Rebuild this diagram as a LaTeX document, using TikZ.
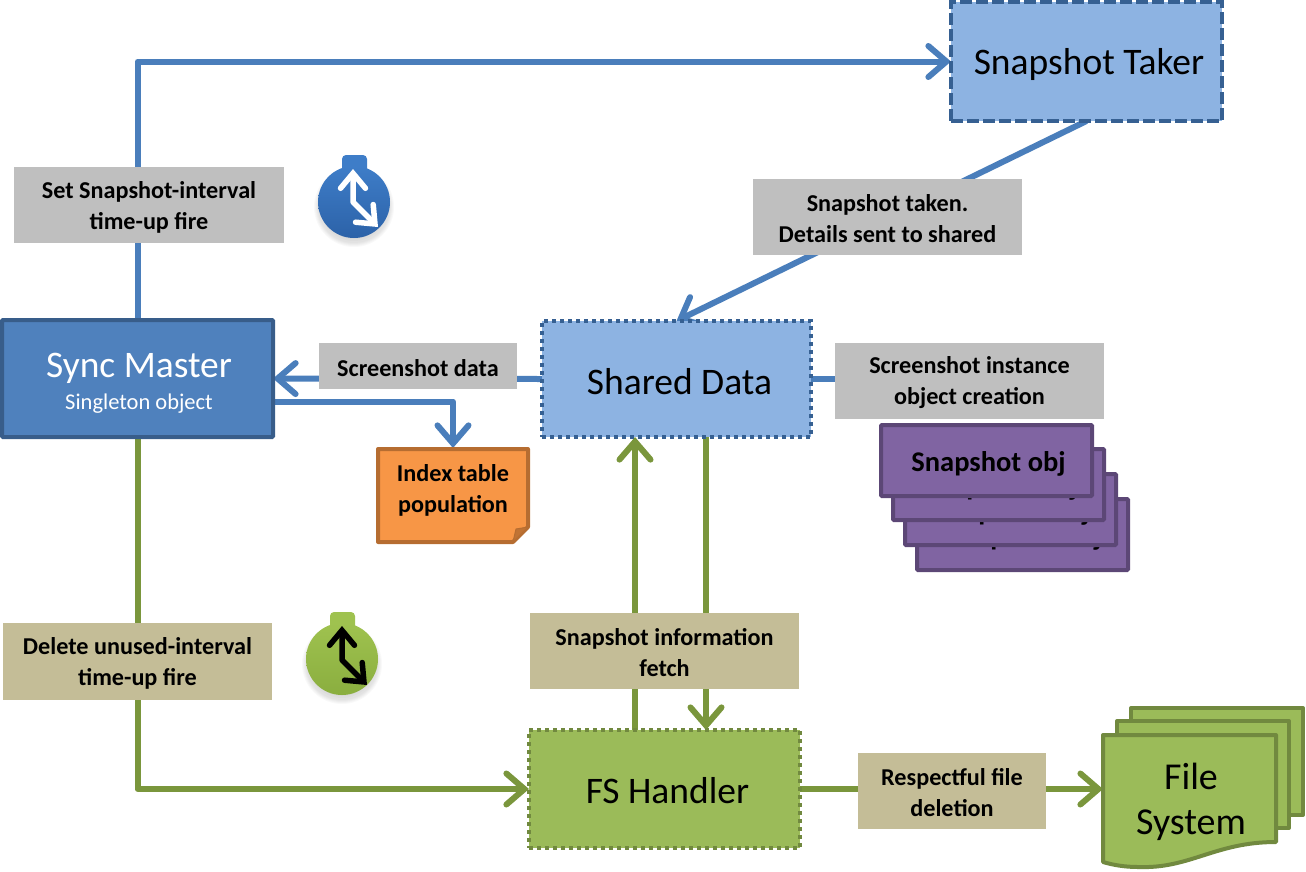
\documentclass[tikz,border=0pt]{standalone}
\usepackage{fontspec}
\setmainfont{Carlito}
\usetikzlibrary{arrows.meta,calc}
\pgfdeclarelayer{bg}
\pgfsetlayers{bg,main}
\definecolor{cblue}{HTML}{4A7EBB}
\definecolor{cgreen}{HTML}{7A963C}
\definecolor{dkblue}{HTML}{4F81BD}
\definecolor{dkblueb}{HTML}{385D8A}
\definecolor{ltblue}{HTML}{8DB3E2}
\definecolor{ltblueb}{HTML}{366092}
\definecolor{grn}{HTML}{9BBB59}
\definecolor{grnb}{HTML}{71893F}
\definecolor{prp}{HTML}{8064A2}
\definecolor{prpb}{HTML}{5C4776}
\definecolor{org}{HTML}{F79646}
\definecolor{orgb}{HTML}{B66D31}
\definecolor{gry}{HTML}{BFBFBF}
\definecolor{kha}{HTML}{C4BD97}
\definecolor{tbtop}{HTML}{3E7DC8}
\definecolor{tbbot}{HTML}{2C62A8}
\definecolor{tgtop}{HTML}{9FC24F}
\definecolor{tgbot}{HTML}{8AAE3F}
\newcommand\dn{\rule{0pt}{21pt}}
\tikzset{
  px/.style={x=1pt,y=-1pt},
  bigtip/.style={-{Straight Barb[length=18pt,width=31pt,line cap=round]}},
  ablue/.style={draw=cblue,line width=6pt,line join=round,bigtip},
  agreen/.style={draw=cgreen,line width=6pt,line join=round,bigtip},
  lblue/.style={draw=cblue,line width=6pt},
  timerarrow/.style={line width=5.5pt,line join=round,{Straight Barb[length=15pt,width=25pt,line cap=round]}-{Straight Barb[length=15pt,width=25pt,line cap=round]}},
  boxbase/.style={anchor=north west,outer sep=0pt,inner sep=0pt,align=center},
  big/.style={font=\fontsize{37.5}{42}\selectfont},
  master/.style={boxbase,fill=dkblue,draw=dkblueb,line width=4pt,rounded corners=1pt,text=white},
  dataBox/.style={boxbase,big,fill=ltblue,draw=ltblueb,line width=3.5pt,dash pattern=on 4pt off 4pt},
  takerBox/.style={boxbase,big,fill=ltblue,draw=ltblueb,line width=3.5pt,dash pattern=on 12pt off 4pt},
  fsBox/.style={boxbase,big,fill=grn,draw=grnb,line width=3.5pt,dash pattern=on 4pt off 4pt},
  tag/.style={boxbase,font=\fontsize{24.2}{31}\selectfont\bfseries},
  graytag/.style={tag,fill=gry},
  khatag/.style={tag,fill=kha},
  objbox/.style={boxbase,fill=prp,draw=prpb,line width=4pt,rounded corners=1pt,minimum width=211pt,minimum height=71pt,font=\fontsize{28.5}{34}\selectfont\bfseries},
  fspage/.style={fill=grn,draw=grnb,line width=4pt,line join=round},
}
\begin{document}
\begin{tikzpicture}[px]
\useasboundingbox (0,0) rectangle (1306,871);

% timers
\foreach \r in {28,30,32,34,36,37,38,39,40}{
  \fill[black,opacity=.025] (354,207) circle (\r);
  \fill[black,opacity=.025] (342,664) circle (\r);
}
\fill[tbtop,rounded corners=4pt] (342,155) rectangle (367,182);
\shade[top color=tbtop,bottom color=tbbot] (354,202) circle (36);
\draw[white,timerarrow] (353,169) -- (353,202) -- (378,227);

\fill[tgtop,rounded corners=4pt] (330,612) rectangle (355,640);
\shade[top color=tgtop,bottom color=tgbot] (342,659) circle (36);
\draw[black,timerarrow] (342,626) -- (342,660) -- (367,685);

% main boxes
\node[master,minimum width=271pt,minimum height=117pt] (sync) at (2,320) {\hspace*{3pt}\rule{0pt}{34pt}\fontsize{37.5}{38}\selectfont Sync Master\\[9pt]\fontsize{22.5}{34}\selectfont\hspace*{3pt}Singleton object};
\node[takerBox,minimum width=271pt,minimum height=119pt] (taker) at (951,2) {\hspace*{5pt}\rule{0pt}{33pt}Snapshot Taker};
\node[dataBox,minimum width=269pt,minimum height=116pt] (shared) at (542,321) {\hspace*{6pt}\rule{0pt}{31pt}Shared Data};
\node[fsBox,minimum width=271pt,minimum height=118pt] (fs) at (529,730) {\hspace*{6pt}\rule{0pt}{29pt}FS Handler};

% labels
\node[graytag,minimum width=270pt,minimum height=76pt] (setlbl) at (14,167) {\dn Set Snapshot-interval\\time-up fire};
\node[graytag,minimum width=269pt,minimum height=76pt] (takenlbl) at (753,179) {\dn Snapshot taken.\\Details sent to shared};
\node[graytag,minimum width=198pt,minimum height=46pt] (datalbl) at (319,343) {\dn Screenshot data};
\node[graytag,minimum width=269pt,minimum height=76pt] (instlbl) at (835,343) {\dn Screenshot instance\\object creation};
\node[khatag,minimum width=269pt,minimum height=77pt] (dellbl) at (3,623) {\dn Delete unused-interval\\time-up fire};
\node[khatag,minimum width=269pt,minimum height=76pt] (infolbl) at (530,613) {\dn Snapshot information\\fetch};
\node[khatag,minimum width=188pt,minimum height=76pt] (resplbl) at (858,753) {\dn Respectful file\\deletion};

% index note
\path[fill=org,draw=orgb,line width=4pt,line join=round] (378,449) -- (528,449) -- (528,527) -- (513,542) -- (378,542) -- cycle;
\path[fill=orgb!85!org,draw=orgb,line width=1pt,line join=round] (513,542) -- (516,529) -- (528,527) -- cycle;
\node[boxbase,anchor=center,font=\fontsize{24.2}{31}\selectfont\bfseries,minimum width=150pt,minimum height=94pt] (index) at (453,490) {Index table\\population};
\coordinate (indextop) at (453,448);

% snapshot stack
\node[objbox] (o4) at (917,499) {\hspace*{4pt}\rule{0pt}{27pt}Snapshot obj};
\node[objbox] (o3) at (905,474) {\hspace*{4pt}\rule{0pt}{27pt}Snapshot obj};
\node[objbox] (o2) at (893,449) {\hspace*{4pt}\rule{0pt}{27pt}Snapshot obj};
\node[objbox] (o1) at (881,425) {\hspace*{4pt}\rule{0pt}{27pt}Snapshot obj};

% file system stack
\path[fspage] (1131,708) -- (1303,708) -- (1303,815) -- (1131,815) -- cycle;
\path[fspage] (1117,721) -- (1289,721) -- (1289,828) -- (1117,828) -- cycle;
\path[fspage] (1103,735) -- (1276,735) -- (1276,842) .. controls (1215,842) and (1190,869) .. (1138,867) .. controls (1125,867) and (1113,865) .. (1103,862) -- cycle;
\node[boxbase,anchor=center,font=\fontsize{38}{45}\selectfont] (filesys) at (1191,802) {File\\System};
\coordinate (fileleft) at (1103,789);

% connectors
\begin{pgfonlayer}{bg}
\draw[ablue] (sync.north) |- (taker.west);
\draw[ablue] (taker.south) -- (shared.north);
\draw[ablue] (shared.west) -- (sync.east);
\draw[ablue] ([yshift=-23pt]sync.east) -| (indextop);
\draw[lblue] (shared.east) -- (shared.east -| instlbl.west);
\draw[agreen] (sync.south) |- (fs.west);
\draw[agreen] ([xshift=-29.5pt]fs.north) -- ([xshift=-29.5pt]fs.north |- shared.south);
\draw[agreen] ([xshift=29.5pt]shared.south) -- ([xshift=29.5pt]shared.south |- fs.north);
\draw[agreen] (fs.east) -- (fileleft);
\end{pgfonlayer}
\end{tikzpicture}
\end{document}
